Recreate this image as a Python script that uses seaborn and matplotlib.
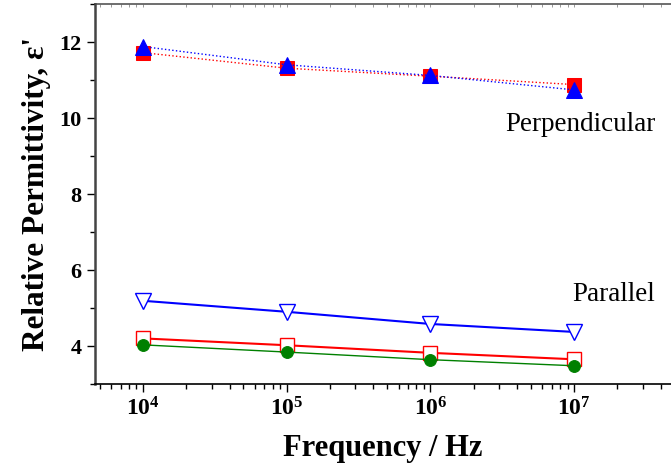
import matplotlib
matplotlib.use('Agg')
import matplotlib.pyplot as plt
import seaborn as sns
import numpy as np
from matplotlib.ticker import LogLocator, NullFormatter, MultipleLocator

freq = [1e4, 1e5, 1e6, 1e7]

# Perpendicular (filled markers, dotted lines)
perp_square = [11.72, 11.31, 11.10, 10.88]
perp_triangle = [11.88, 11.40, 11.12, 10.74]

# Parallel (open markers + filled circles, solid lines)
par_triangle = [5.19, 4.90, 4.58, 4.37]
par_square = [4.20, 4.02, 3.82, 3.65]
par_circle = [4.03, 3.84, 3.64, 3.48]

xtick_vals = [1e4, 1e5, 1e6, 1e7]
xtick_labels = [r'$\mathbf{10^{4}}$', r'$\mathbf{10^{5}}$', r'$\mathbf{10^{6}}$', r'$\mathbf{10^{7}}$']
ytick_vals = [4, 6, 8, 10, 12]

sns.set_style('ticks')
plt.rcParams['font.family'] = ['Liberation Serif', 'DejaVu Serif']
plt.rcParams['mathtext.fontset'] = 'custom'
plt.rcParams['mathtext.rm'] = 'Liberation Serif'
plt.rcParams['mathtext.bf'] = 'Liberation Serif:bold'
plt.rcParams['text.color'] = 'black'
plt.rcParams['axes.labelcolor'] = 'black'

fig = plt.figure(figsize=(6.71, 4.71), dpi=100)
ax = fig.add_axes([95 / 671, 87 / 471, 576 / 671, 380 / 471])

# ── Perpendicular ─────────────────────────────────────
sns.lineplot(x=freq, y=perp_square, ax=ax, color='red', linestyle=':', linewidth=1,
             marker='s', markersize=9.5, markeredgecolor='red', markerfacecolor='red')
sns.lineplot(x=freq, y=perp_triangle, ax=ax, color='blue', linestyle=':', linewidth=1,
             marker='^', markersize=11.5, markeredgecolor='blue', markerfacecolor='blue')

# ── Parallel ──────────────────────────────────────────
sns.lineplot(x=freq, y=par_triangle, ax=ax, color='blue', linestyle='-', linewidth=1.5,
             marker='v', markersize=11.5, markeredgecolor='blue', markerfacecolor='white',
             markeredgewidth=1)
sns.lineplot(x=freq, y=par_square, ax=ax, color='red', linestyle='-', linewidth=1.5,
             marker='s', markersize=9.5, markeredgecolor='red', markerfacecolor='white',
             markeredgewidth=1)
sns.lineplot(x=freq, y=par_circle, ax=ax, color='green', linestyle='-', linewidth=1,
             marker='o', markersize=8.5, markeredgecolor='green', markerfacecolor='green')

ax.set_xscale('log')
ax.set_xlim(10 ** 3.666, 10 ** 7.674)
ax.set_ylim(3, 13)

ax.set_xticks(xtick_vals)
ax.set_xticklabels(xtick_labels)
ax.xaxis.set_minor_locator(LogLocator(base=10, subs=np.arange(2, 10)))
ax.xaxis.set_minor_formatter(NullFormatter())

ax.set_yticks(ytick_vals)
ax.set_yticklabels([str(v) for v in ytick_vals])
ax.yaxis.set_minor_locator(MultipleLocator(1))

ax.tick_params(axis='both', which='major', direction='out', length=6, width=1, colors='black')
ax.tick_params(axis='both', which='minor', direction='out', length=3.5, width=1, colors='black')
ax.tick_params(axis='x', which='major', labelsize=17)
ax.tick_params(axis='y', which='major', labelsize=16)
for lab in ax.get_yticklabels():
    lab.set_fontweight('bold')

# top axis: small inward ticks only
top = ax.secondary_xaxis('top')
top.set_xticks(xtick_vals)
top.xaxis.set_minor_locator(LogLocator(base=10, subs=np.arange(2, 10)))
top.xaxis.set_major_formatter(NullFormatter())
top.xaxis.set_minor_formatter(NullFormatter())
top.tick_params(which='both', direction='in', length=2.5, width=0.6, colors='#888888')
top.spines['top'].set_color('#555555')
top.spines['top'].set_linewidth(1.2)

ax.spines['right'].set_visible(False)
ax.spines['top'].set_visible(False)
ax.spines['left'].set_color('#444444')
ax.spines['left'].set_linewidth(1.8)
ax.spines['bottom'].set_color('black')
ax.spines['bottom'].set_linewidth(1.2)

ax.set_xlabel('Frequency / Hz', fontsize=22, fontweight='bold', labelpad=10, color='black')
ax.set_ylabel("Relative Permittivity, ε'", fontsize=22.5, fontweight='bold', labelpad=6,
              color='black')

ax.text(10 ** 7.563, 9.66, 'Perpendicular', fontsize=19.5, ha='right', va='baseline',
        color='black')
ax.text(10 ** 7.563, 5.18, 'Parallel', fontsize=19.5, ha='right', va='baseline', color='black')

fig.savefig('out.png', dpi=100)
plt.close(fig)
